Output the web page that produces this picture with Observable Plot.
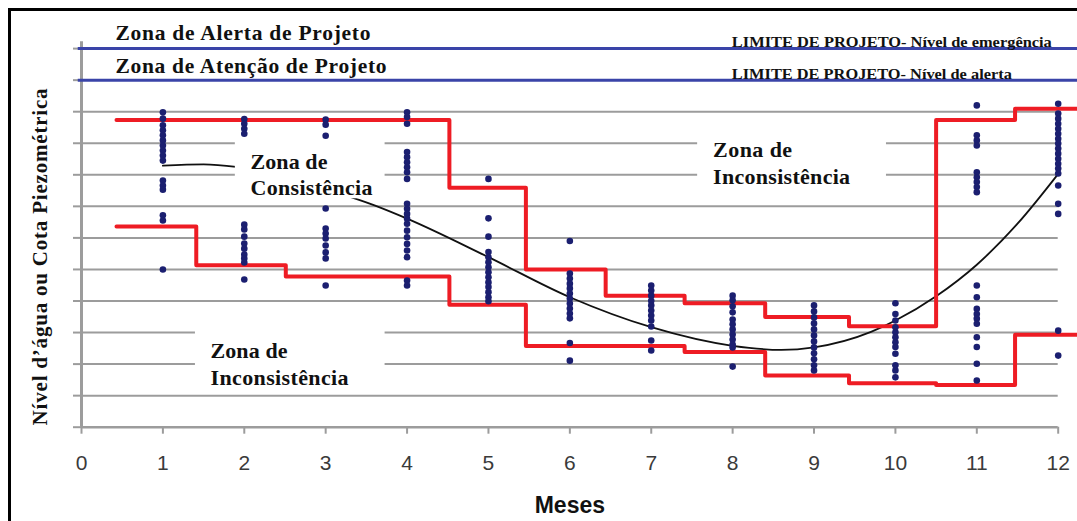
<!DOCTYPE html>
<html><head><meta charset="utf-8">
<script src="https://cdn.jsdelivr.net/npm/d3@7"></script>
<script src="https://cdn.jsdelivr.net/npm/@observablehq/plot@0.6"></script>
<style>
html,body{margin:0;padding:0;background:#fff;overflow:hidden;}
#wrap{position:relative;width:1077px;height:521px;overflow:hidden;}
#frame{position:absolute;left:8px;top:8px;width:1200px;height:700px;border-left:3px solid #000;border-top:3px solid #000;pointer-events:none;z-index:2;}
</style></head><body><div id="wrap"><div id="frame"></div><div id="chart"></div></div>
<script>
// ---- data ----
const ticksX = d3.range(0, 13);
const ticksY = d3.range(0, 13);
const gradeY = d3.range(1, 11);
const limitesProjeto = [11, 12];

const mes1 = [9.98, 9.78, 9.57, 9.41, 9.25, 9.09, 8.93, 8.77, 8.61, 8.45, 7.82, 7.66, 7.53, 6.72, 6.55, 5.0];
const mes2 = [9.77, 9.62, 9.46, 9.30, 6.42, 6.27, 6.04, 5.82, 5.66, 5.47, 5.35, 5.22, 4.68];
const mes3 = [9.75, 9.59, 9.24, 6.93, 6.30, 6.14, 5.98, 5.76, 5.54, 5.35, 4.49];
const mes4 = [9.98, 9.83, 9.62, 8.72, 8.56, 8.40, 8.24, 8.08, 7.87, 7.08, 6.92, 6.76, 6.61, 6.45, 6.23, 6.02, 5.81, 5.60, 5.39, 4.65, 4.49];
const mes5 = [7.87, 6.62, 6.04, 5.55, 5.39, 5.23, 5.07, 4.91, 4.75, 4.59, 4.44, 4.28, 4.12, 3.99];
const mes6 = [5.90, 4.87, 4.71, 4.55, 4.40, 4.24, 4.08, 3.92, 3.76, 3.60, 3.45, 2.67, 2.11];
const mes7 = [4.49, 4.33, 4.17, 4.01, 3.86, 3.70, 3.54, 3.38, 3.19, 2.75, 2.43];
const mes8 = [4.17, 4.02, 3.83, 3.64, 3.41, 3.26, 3.10, 2.94, 2.78, 2.62, 2.53, 1.92];
const mes9 = [3.86, 3.67, 3.48, 3.29, 3.10, 2.91, 2.72, 2.53, 2.34, 2.15, 1.96, 1.80];
const mes10 = [3.93, 3.59, 3.38, 3.17, 3.01, 2.85, 2.69, 2.54, 2.33, 1.96, 1.80, 1.58];
const mes11 = [10.20, 9.25, 9.09, 8.93, 8.08, 7.92, 7.77, 7.61, 7.45, 4.49, 4.12, 3.75, 3.59, 3.44, 3.28, 2.85, 2.54, 2.01, 1.48];
const mes12 = [10.25, 9.94, 9.78, 9.62, 9.46, 9.30, 9.14, 8.99, 8.83, 8.67, 8.51, 8.35, 8.20, 8.04, 7.66, 7.08, 6.76, 3.06, 2.27];
const leituras = [mes1, mes2, mes3, mes4, mes5, mes6, mes7, mes8, mes9, mes10, mes11, mes12];

// step limits (step-after at the listed x)
const passosX = [0.43, 1.41, 2.51, 3.5, 4.52, 5.46, 6.44, 7.41, 8.40, 9.43, 10.5, 11.47, 12.8];
const limSup = [9.74, 9.74, 9.74, 9.74, 7.59, 5.0, 4.17, 3.93, 3.49, 3.2, 9.74, 10.09, 10.09];
const limInf = [6.36, 5.13, 4.78, 4.78, 3.88, 2.57, 2.57, 2.38, 1.64, 1.39, 1.34, 2.93, 2.93];

// fitted curve
const curvaX = [1, 1.5, 1.9, 2.5, 3.0, 3.6, 4, 5, 6, 7, 8, 8.6, 9, 9.7, 10, 10.5, 11, 11.5, 12];
const curvaY = [8.29, 8.33, 8.25, 7.95, 7.55, 7.03, 6.61, 5.39, 4.12, 3.17, 2.58, 2.45, 2.53, 3.02, 3.38, 4.15, 5.15, 6.45, 8.03];

// annotations
const textos = ["Zona de Alerta de Projeto", "Zona de Atenção de Projeto",
  "LIMITE DE PROJETO- Nível de emergência", "LIMITE DE PROJETO- Nível de alerta",
  "Zona de", "Consistência", "Zona de", "Inconsistência", "Zona de", "Inconsistência"];
const textoX = [0.418, 0.418, 7.99, 7.99, 2.076, 2.076, 7.76, 7.76, 1.585, 1.585];
const textoY = [12.50, 11.46, 12.18, 11.18, 8.42, 7.57, 8.80, 7.93, 2.43, 1.55];
const textoTam = [21.5, 21.5, 14, 14, 22, 22, 22, 22, 22, 22];
const textoLarg = [255, 271, 320, 280, 77, 122, 79, 137, 77, 138];

// white boxes behind zone labels
const caixas = [
  {x1: 1.89, x2: 3.73, y1: 7.24, y2: 9.56},
  {x1: 7.57, x2: 9.89, y1: 7.24, y2: 9.56},
  {x1: 1.40, x2: 3.73, y1: 1.16, y2: 3.54}
];

const tituloY = "Nível d’água ou Cota Piezométrica";
const tituloX = "Meses";

// ---- derived tables ----
const pontos = leituras.flatMap((arr, i) => arr.map(v => ({mes: i + 1, v})));
const sup = passosX.map((x, i) => ({x, y: limSup[i]}));
const inf = passosX.map((x, i) => ({x, y: limInf[i]}));
const curva = curvaX.map((x, i) => ({x, y: curvaY[i]}));
const anot = textos.map((t, i) => ({t, x: textoX[i], y: textoY[i], s: textoTam[i]}));

const GRAY = "#9c9c9c";
const serif = "Liberation Serif, Times New Roman, serif";

const plot = Plot.plot({
  width: 1077, height: 521,
  marginLeft: 81, marginRight: 19.3, marginTop: 48.1, marginBottom: 94.3,
  x: {domain: [0, 12]},
  y: {domain: [0, 12]},
  style: {background: "transparent", overflow: "visible"},
  marks: [
    Plot.ruleY(gradeY, {x1: 0, x2: 12, stroke: GRAY, strokeWidth: 2}),
    Plot.ruleY([0], {x1: 0, x2: 12, stroke: GRAY, strokeWidth: 2.5}),
    Plot.ruleX([0], {y1: 0, y2: 12.22, stroke: GRAY, strokeWidth: 3}),
    Plot.axisY({ticks: ticksY, tickSize: 8, tickFormat: () => "", stroke: GRAY, strokeWidth: 2, label: null}),
    Plot.axisX({ticks: ticksX, tickSize: 7, tickPadding: 21, fontSize: 21, fontFamily: "Liberation Sans, Arial, sans-serif", fill: "#3a3a3a", stroke: GRAY, strokeWidth: 2, label: null}),
    Plot.line(curva, {x: "x", y: "y", curve: "monotone-x", stroke: "#111", strokeWidth: 1.8}),
    Plot.rect(caixas, {x1: "x1", x2: "x2", y1: "y1", y2: "y2", fill: "white"}),
    Plot.ruleY(limitesProjeto, {x1: -0.04, x2: 12.8, stroke: "#3a44a8", strokeWidth: 3}),
    Plot.line(sup, {x: "x", y: "y", curve: "step-after", stroke: "#ee1c24", strokeWidth: 4}),
    Plot.line(inf, {x: "x", y: "y", curve: "step-after", stroke: "#ee1c24", strokeWidth: 4}),
    Plot.dot(pontos, {x: "mes", y: "v", r: 3.3, fill: "#1b1f70", stroke: "none"}),
    Plot.text(anot, {x: "x", y: "y", text: "t", fontSize: "s", textAnchor: "start", lineAnchor: "middle",
      fontFamily: serif, fontWeight: "bold", fill: "#111"}),
    Plot.text([tituloY], {frameAnchor: "left", rotate: -90, dx: -41, dy: 19, textAnchor: "middle", lineAnchor: "middle",
      fontSize: 21, fontFamily: serif, fontWeight: "bold", fill: "#111"}),
    Plot.text([tituloX], {frameAnchor: "bottom", dy: 78, textAnchor: "middle", lineAnchor: "middle",
      fontSize: 23, fontFamily: "Liberation Sans, Arial, sans-serif", fontWeight: "bold", fill: "#111"})
  ]
});
document.getElementById("chart").appendChild(plot);

const grupos = d3.select(plot).selectAll('g[aria-label="text"]').nodes();
d3.select(grupos[0]).selectAll("text").each(function(d, i) {
  const el = d3.select(this).attr("textLength", textoLarg[i]);
  if (i === 2 || i === 3) el.attr("lengthAdjust", "spacingAndGlyphs");
});
d3.select(grupos[1]).selectAll("text").attr("textLength", 337);
</script></body></html>
